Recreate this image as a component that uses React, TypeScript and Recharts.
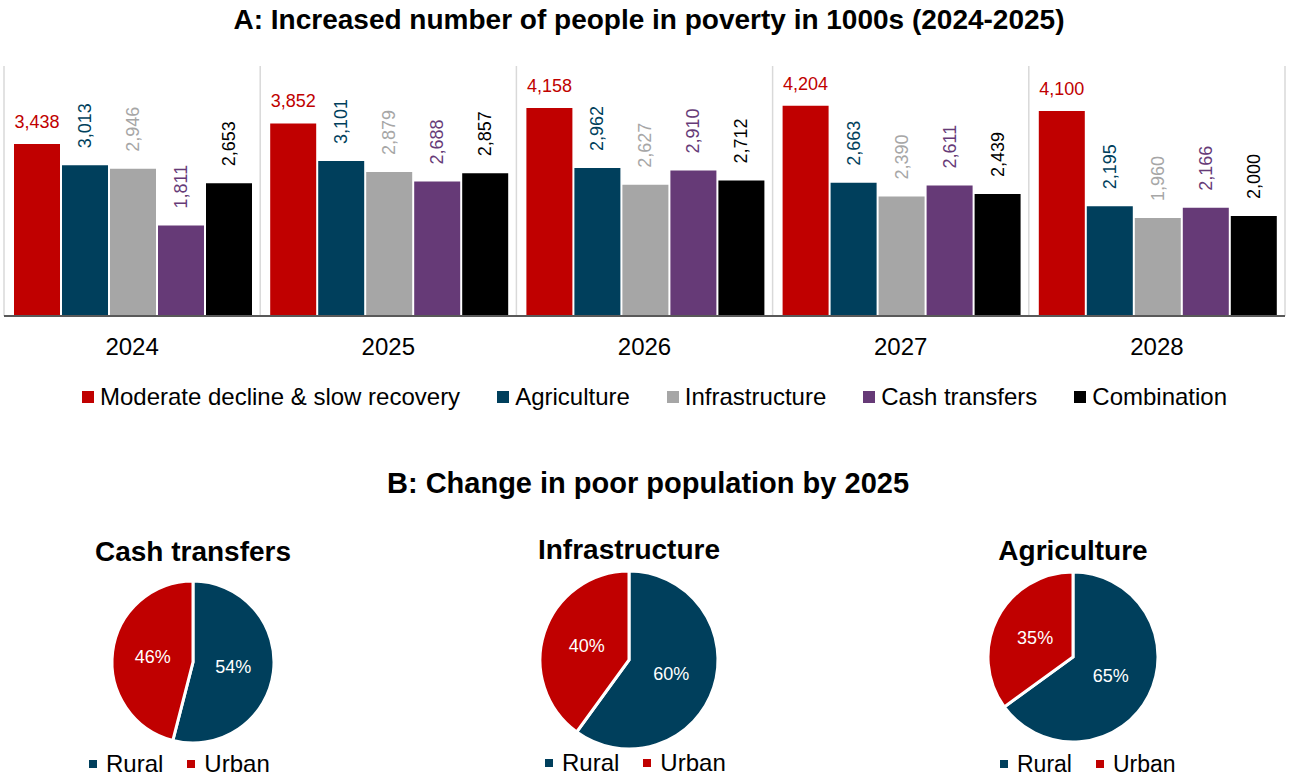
import { Bar, BarChart, CartesianGrid, Cell, LabelList, Pie, PieChart, XAxis, YAxis } from "recharts";

const years = ["2024", "2025", "2026", "2027", "2028"];
const moderate = [3438, 3852, 4158, 4204, 4100];
const agriculture = [3013, 3101, 2962, 2663, 2195];
const infrastructure = [2946, 2879, 2627, 2390, 1960];
const cashTransfers = [1811, 2688, 2910, 2611, 2166];
const combination = [2653, 2857, 2712, 2439, 2000];

const seriesKeys = ["moderate", "agriculture", "infrastructure", "cash", "combination"];
const seriesNames = ["Moderate decline & slow recovery", "Agriculture", "Infrastructure", "Cash transfers", "Combination"];

const pieTitles = ["Cash transfers", "Infrastructure", "Agriculture"];
const ruralShare = [54, 60, 65];
const urbanShare = [46, 40, 35];
const pieLegend = ["Rural", "Urban"];

const COLORS: Record<string, string> = {
  moderate: "#C00000",
  agriculture: "#003F5C",
  infrastructure: "#A6A6A6",
  cash: "#663A77",
  combination: "#000000",
  rural: "#003F5C",
  urban: "#C00000",
};

const FONT = "'Liberation Sans', Arial, Helvetica, sans-serif";

const rows = years.map((year, i) => ({
  year,
  moderate: moderate[i],
  agriculture: agriculture[i],
  infrastructure: infrastructure[i],
  cash: cashTransfers[i],
  combination: combination[i],
}));

function barLabel(color: string, horizontal: boolean) {
  return (props: any) => {
    const { x, y, width, value } = props;
    const cx = Number(x) + Number(width) / 2;
    const text = Number(value).toLocaleString("en-US");
    if (horizontal) {
      return (
        <text x={cx} y={Number(y) - 16} fill={color} fontSize={18} textAnchor="middle" fontFamily={FONT}>
          {text}
        </text>
      );
    }
    const ty = Number(y) - 17;
    return (
      <text
        x={cx}
        y={ty}
        transform={`rotate(-90 ${cx} ${ty})`}
        fill={color}
        fontSize={18}
        textAnchor="start"
        dominantBaseline="central"
        fontFamily={FONT}
      >
        {text}
      </text>
    );
  };
}

const pieLabel = (p: any) => {
  const RAD = Math.PI / 180;
  const rr = p.outerRadius * 0.5;
  const x = p.cx + rr * Math.cos(-p.midAngle * RAD);
  const y = p.cy + rr * Math.sin(-p.midAngle * RAD);
  return (
    <text x={x} y={y} fill="#fff" fontSize={18} textAnchor="middle" dominantBaseline="central" fontFamily={FONT}>
      {`${Math.round(p.percent * 100)}%`}
    </text>
  );
};

function PieBlock({ idx, cx, cy, r, titleY, legendX, legendY, legendFont }: any) {
  const data = [
    { name: pieLegend[0], value: ruralShare[idx] },
    { name: pieLegend[1], value: urbanShare[idx] },
  ];
  const size = 2 * r + 20;
  return (
    <>
      <div
        style={{
          position: "absolute",
          left: cx - 150,
          top: titleY - 16,
          width: 300,
          textAlign: "center",
          fontSize: 28,
          lineHeight: "32px",
          fontWeight: 700,
        }}
      >
        {pieTitles[idx]}
      </div>
      <div style={{ position: "absolute", left: cx - size / 2, top: cy - size / 2 }}>
        <PieChart width={size} height={size} margin={{ top: 0, right: 0, bottom: 0, left: 0 }}>
          <Pie
            data={data}
            dataKey="value"
            nameKey="name"
            cx="50%"
            cy="50%"
            outerRadius={r + 1}
            startAngle={90}
            endAngle={-270}
            stroke="#fff"
            strokeWidth={3}
            label={pieLabel}
            labelLine={false}
            isAnimationActive={false}
          >
            <Cell fill={COLORS.rural} />
            <Cell fill={COLORS.urban} />
          </Pie>
        </PieChart>
      </div>
      <div
        style={{
          position: "absolute",
          left: legendX,
          top: legendY - 14,
          display: "flex",
          alignItems: "center",
          fontSize: legendFont,
          lineHeight: "26px",
        }}
      >
        {pieLegend.map((n, i) => (
          <div key={n} style={{ display: "flex", alignItems: "center", marginRight: i === 0 ? 24 : 0 }}>
            <span style={{ width: 8, height: 8, background: i === 0 ? COLORS.rural : COLORS.urban, marginRight: 9 }} />
            <span>{n}</span>
          </div>
        ))}
      </div>
    </>
  );
}

export default function App() {
  return (
    <div
      style={{
        position: "absolute",
        left: 0,
        top: 0,
        width: 1291,
        height: 780,
        background: "#fff",
        fontFamily: FONT,
        color: "#000",
        overflow: "hidden",
      }}
    >
      <div
        style={{
          position: "absolute",
          left: 0,
          top: 4,
          width: 1298,
          textAlign: "center",
          fontSize: 28,
          lineHeight: "32px",
          fontWeight: 700,
        }}
      >
        A: Increased number of people in poverty in 1000s (2024-2025)
      </div>

      <div style={{ position: "absolute", left: 0, top: 0 }}>
        <BarChart
          width={1291}
          height={370}
          data={rows}
          margin={{ top: 66, right: 6, bottom: 0, left: 4 }}
          barGap={2}
          barCategoryGap={10}
        >
          <CartesianGrid
            horizontal={false}
            stroke="#D9D9D9"
            strokeWidth={1.5}
            verticalCoordinatesGenerator={({ offset }: any) => {
              const left = offset?.left ?? 4;
              const w = offset?.width ?? 1281;
              return [...years.map((_, i) => left + (i * w) / years.length), left + w];
            }}
          />
          <XAxis
            dataKey="year"
            interval={0}
            height={54}
            tickLine={false}
            tickMargin={16}
            axisLine={{ stroke: "#595959", strokeWidth: 2 }}
            tick={{ fontSize: 24, fill: "#000", fontFamily: FONT }}
          />
          <YAxis hide domain={[0, 5000]} />
          {seriesKeys.map((k, i) => (
            <Bar key={k} dataKey={k} name={seriesNames[i]} fill={COLORS[k]} isAnimationActive={false}>
              <LabelList dataKey={k} content={barLabel(COLORS[k], i === 0)} />
            </Bar>
          ))}
        </BarChart>
      </div>

      <div
        style={{
          position: "absolute",
          left: 9,
          top: 383,
          width: 1291,
          display: "flex",
          justifyContent: "center",
          alignItems: "center",
          fontSize: 24,
          lineHeight: "28px",
        }}
      >
        {seriesKeys.map((k, i) => (
          <div key={k} style={{ display: "flex", alignItems: "center", marginRight: i < seriesKeys.length - 1 ? 37 : 0 }}>
            <span style={{ width: 12, height: 12, background: COLORS[k], marginRight: 6 }} />
            <span>{seriesNames[i]}</span>
          </div>
        ))}
      </div>

      <div
        style={{
          position: "absolute",
          left: 0,
          top: 467,
          width: 1296,
          textAlign: "center",
          fontSize: 29,
          lineHeight: "32px",
          fontWeight: 700,
        }}
      >
        B: Change in poor population by 2025
      </div>

      <PieBlock idx={0} cx={193} cy={662} r={80} titleY={552} legendX={89} legendY={765} legendFont={24} />
      <PieBlock idx={1} cx={629} cy={660} r={88} titleY={550} legendX={545} legendY={764} legendFont={24} />
      <PieBlock idx={2} cx={1073} cy={657} r={84} titleY={551} legendX={1000} legendY={765} legendFont={23} />
    </div>
  );
}
